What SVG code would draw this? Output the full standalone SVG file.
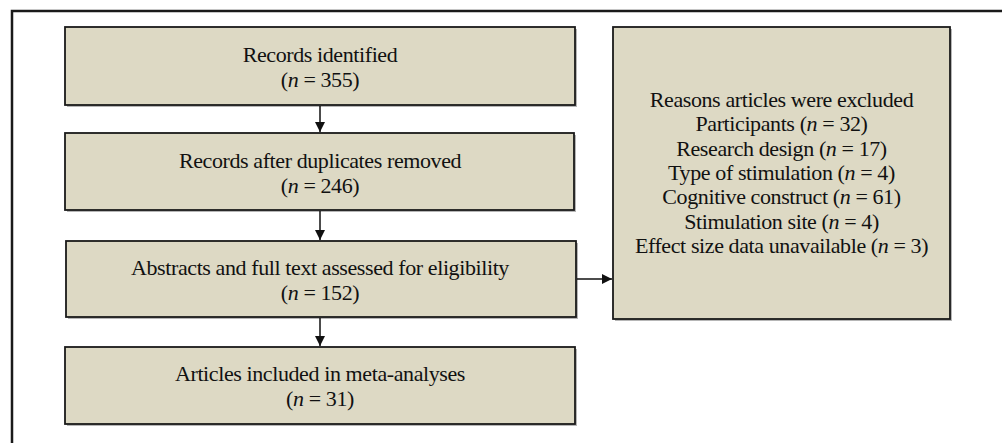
<svg xmlns="http://www.w3.org/2000/svg" width="1002" height="443" viewBox="0 0 1002 443">
<defs>
<style>
.box{fill:#DDD9C4;stroke:#1a1a1a;stroke-width:1.8}
.shadow{fill:#7a7a7a;opacity:0.55}
.t{font-family:"Liberation Serif","Times New Roman",serif;font-size:22px;letter-spacing:-0.4px;fill:#111;text-anchor:middle}
.i{font-style:italic}
.conn{stroke:#111;stroke-width:1.5;fill:none}
</style>
<marker id="ah" viewBox="0 0 10 10" refX="10" refY="5" markerWidth="10" markerHeight="10" markerUnits="userSpaceOnUse" orient="auto">
<path d="M0,0 L10,5 L0,10 Z" fill="#111"/>
</marker>
</defs>
<rect x="0" y="0" width="1002" height="443" fill="#fff"/>
<path d="M12,443 L12,11 L1002,11" fill="none" stroke="#1a1a1a" stroke-width="2.5"/>

<g id="n1">
<rect class="shadow" x="67" y="29" width="510" height="78"/>
<rect class="box" x="65" y="27" width="510" height="78"/>
<text class="t" x="320" y="62">Records identified</text>
<text class="t" x="320" y="87">(<tspan class="i">n</tspan> = 355)</text>
</g>
<g id="n2">
<rect class="shadow" x="67" y="135" width="509" height="77"/>
<rect class="box" x="65" y="133" width="509" height="77"/>
<text class="t" x="320" y="168">Records after duplicates removed</text>
<text class="t" x="320" y="193">(<tspan class="i">n</tspan> = 246)</text>
</g>
<g id="n3">
<rect class="shadow" x="68" y="243" width="510" height="76"/>
<rect class="box" x="66" y="241" width="510" height="76"/>
<text class="t" x="320" y="275">Abstracts and full text assessed for eligibility</text>
<text class="t" x="320" y="300">(<tspan class="i">n</tspan> = 152)</text>
</g>
<g id="n4">
<rect class="shadow" x="67" y="349" width="510" height="77"/>
<rect class="box" x="65" y="347" width="510" height="77"/>
<text class="t" x="320" y="381">Articles included in meta-analyses</text>
<text class="t" x="320" y="406">(<tspan class="i">n</tspan> = 31)</text>
</g>
<g id="n5">
<rect class="shadow" x="615" y="29" width="337" height="292"/>
<rect class="box" x="613" y="27" width="337" height="292"/>
<text class="t" x="781.5" y="107">Reasons articles were excluded</text>
<text class="t" x="781.5" y="131.3">Participants (<tspan class="i">n</tspan> = 32)</text>
<text class="t" x="781.5" y="155.6">Research design (<tspan class="i">n</tspan> = 17)</text>
<text class="t" x="781.5" y="180">Type of stimulation (<tspan class="i">n</tspan> = 4)</text>
<text class="t" x="781.5" y="204.2">Cognitive construct (<tspan class="i">n</tspan> = 61)</text>
<text class="t" x="781.5" y="228.5">Stimulation site (<tspan class="i">n</tspan> = 4)</text>
<text class="t" x="781.5" y="252.8">Effect size data unavailable (<tspan class="i">n</tspan> = 3)</text>
</g>
<g id="connectors">
<line class="conn" x1="320" y1="106" x2="320" y2="132" marker-end="url(#ah)"/>
<line class="conn" x1="320" y1="211" x2="320" y2="240" marker-end="url(#ah)"/>
<line class="conn" x1="320" y1="318" x2="320" y2="346" marker-end="url(#ah)"/>
<line class="conn" x1="577" y1="279" x2="612" y2="279" marker-end="url(#ah)"/>
</g>
</svg>
